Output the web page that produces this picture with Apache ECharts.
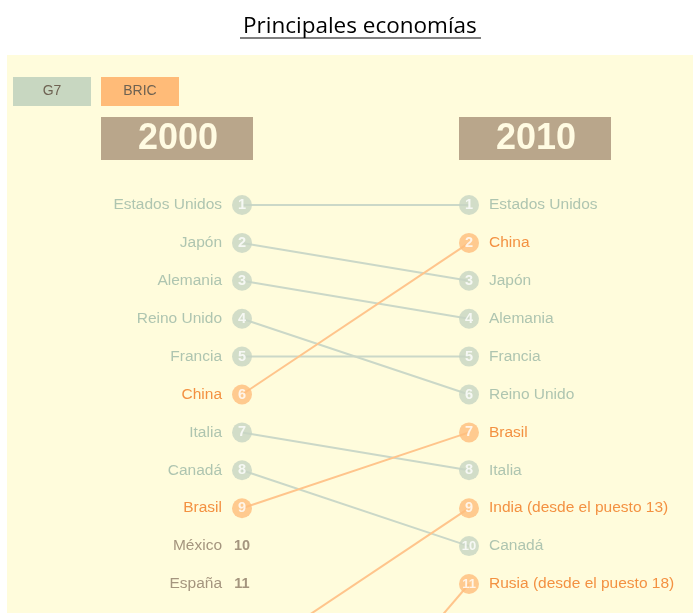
<!DOCTYPE html>
<html>
<head>
<meta charset="utf-8">
<script src="https://cdn.jsdelivr.net/npm/echarts@6/dist/echarts.min.js"></script>
<style>
  html, body { margin: 0; padding: 0; background: #fff; }
  #chart { width: 693px; height: 613px; }
</style>
</head>
<body>
<div id="chart"></div>
<script>
    // países y puestos (null = fuera de la lista en ese año)
    const names = ['Estados Unidos', 'Japón', 'Alemania', 'Reino Unido', 'Francia', 'China',
        'Italia', 'Canadá', 'Brasil', 'México', 'España', 'India', 'Rusia'];
    const rank2000 = [1, 2, 3, 4, 5, 6, 7, 8, 9, 10, 11, 13, 18];
    const rank2010 = [1, 3, 4, 6, 5, 2, 8, 10, 7, null, null, 9, 11];
    const groups = ['G7', 'G7', 'G7', 'G7', 'G7', 'BRIC', 'G7', 'G7', 'BRIC', 'otro', 'otro', 'BRIC', 'BRIC'];
    const years = ['2000', '2010'];
    const legendItems = ['G7', 'BRIC'];
    const shownRanks = 11;

    const circleColor = { G7: '#c7d5c3', BRIC: '#ffbd7c', otro: 'rgba(0,0,0,0)' };
    const lineColor = { G7: '#cbd8c8', BRIC: '#ffc58c' };
    const textColor = { G7: '#9ab6a5', BRIC: '#f0761a', otro: '#8d7a66' };
    const font = 'Liberation Sans, Arial, sans-serif';

    const rowH = 37.9;
    const lineSeries = [];
    names.forEach((n, i) => {
        if (rank2000[i] == null || rank2010[i] == null) return;
        lineSeries.push({
            type: 'line',
            silent: true,
            symbol: 'none',
            z: 1,
            lineStyle: { color: lineColor[groups[i]], width: 2 },
            data: [[0, rank2000[i]], [1, rank2010[i]]]
        });
    });

    function circles(col, ranks) {
        const data = [];
        names.forEach((n, i) => {
            const r = ranks[i];
            if (r == null || r > shownRanks) return;
            const g = groups[i];
            data.push({
                value: [col, r],
                itemStyle: { color: circleColor[g] },
                label: {
                    show: true,
                    position: 'inside',
                    formatter: String(r),
                    color: g === 'otro' ? '#8d7a66' : '#fff',
                    fontSize: r >= 10 && g !== 'otro' ? 13 : 14.5,
                    fontWeight: 'bold',
                    fontFamily: font
                }
            });
        });
        return { type: 'scatter', silent: true, symbolSize: 20, z: 3, data: data };
    }

    function nameLabels(col, ranks) {
        const data = [];
        names.forEach((n, i) => {
            const r = ranks[i];
            if (r == null || r > shownRanks) return;
            let text = n;
            if (col === 1 && rank2000[i] > shownRanks) text = n + ' (desde el puesto ' + rank2000[i] + ')';
            data.push({
                value: [col, r],
                label: {
                    show: true,
                    position: col === 0 ? 'left' : 'right',
                    distance: 10,
                    formatter: text,
                    color: textColor[groups[i]],
                    fontSize: 15.5,
                    fontFamily: font
                }
            });
        });
        return { type: 'scatter', silent: true, symbolSize: 20, z: 2, itemStyle: { color: 'rgba(0,0,0,0)' }, data: data };
    }

    const graphics = [
        { type: 'rect', z: -10, shape: { x: 7, y: 55, width: 686, height: 558 }, style: { fill: '#fffcdc' } },
        { type: 'line', shape: { x1: 240, y1: 38, x2: 481, y2: 38 }, style: { stroke: '#000', lineWidth: 1.2 } }
    ];
    legendItems.forEach((t, i) => {
        const x = 13 + i * 88;
        graphics.push({
            type: 'rect', shape: { x: x, y: 77, width: 78, height: 29 },
            style: { fill: i === 0 ? '#c8d7c1' : '#ffbb78' }
        });
        graphics.push({
            type: 'text', x: x + 39, y: 91.5,
            style: { text: t, fill: '#6e6252', font: '14px ' + font, align: 'center', verticalAlign: 'middle' }
        });
    });
    years.forEach((t, i) => {
        const x = i === 0 ? 101 : 459;
        graphics.push({
            type: 'rect', shape: { x: x, y: 117, width: 152, height: 43 },
            style: { fill: '#b9a68b' }
        });
        graphics.push({
            type: 'text', x: x + 77, y: 139,
            style: { text: t, fill: '#fffbe2', font: 'bold 36px ' + font, align: 'center', verticalAlign: 'middle' }
        });
    });

    const chart = echarts.init(document.getElementById('chart'));
    chart.setOption({
        animation: false,
        backgroundColor: '#fff',
        title: {
            text: 'Principales economías',
            left: 238,
            top: 10,
            textStyle: { fontFamily: 'Open Sans', fontWeight: 'normal', fontSize: 22.5, color: '#000' }
        },
        grid: {
            left: 242, width: 227, top: 205 - rowH, height: rowH * 20,
            outerBoundsMode: 'none', containLabel: false
        },
        xAxis: { type: 'value', min: 0, max: 1, show: false },
        yAxis: { type: 'value', min: 0, max: 20, inverse: true, show: false },
        graphic: graphics,
        series: lineSeries.concat([
            circles(0, rank2000), circles(1, rank2010),
            nameLabels(0, rank2000), nameLabels(1, rank2010)
        ])
    });
</script>
</body>
</html>
